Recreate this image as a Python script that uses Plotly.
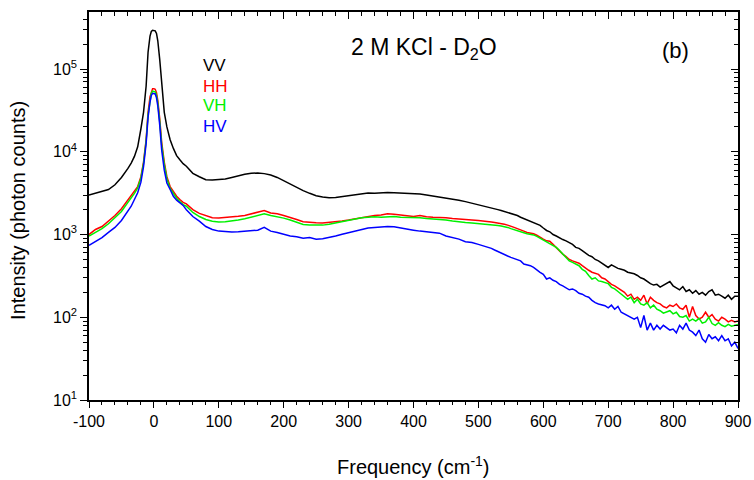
import plotly.graph_objects as go

freq = [-100, -90, -80, -70, -60, -50, -40,
        -35, -30, -25, -20, -16, -12, -9, -6, -4, -2, 0, 2, 4, 6, 9, 12, 16, 20, 25, 30, 35,
        40, 45, 50, 55, 60, 70, 80, 90, 100, 110, 120, 130, 140, 150, 160, 170, 180, 190,
        200, 210, 220, 230, 240, 250, 260, 270, 280, 290, 300, 310, 320, 330, 340, 350,
        360, 370, 380, 390, 400, 410, 420, 430, 440, 450, 460, 470, 480, 490, 500,
        505, 510, 515, 520, 525, 530, 535, 540, 545, 550, 555, 560, 565, 570, 575, 580,
        585, 590, 595, 600, 605, 610, 615, 620, 625, 630, 635, 640, 645, 650, 655, 660,
        665, 670, 675, 680, 685, 690, 695, 700, 705, 710, 715, 720, 725, 730, 735, 740,
        745, 750, 755, 760, 765, 770, 775, 780, 785, 790, 795, 800, 805, 810, 815, 820,
        825, 830, 835, 840, 845, 850, 855, 860, 865, 870, 875, 880, 885, 890, 895, 900]

vv = [3000, 3150, 3300, 3500, 4000, 4900, 6300,
      7300, 8800, 11500, 19000, 30000, 62000, 160000, 250000, 285000, 295000, 295000, 290000, 270000, 220000, 130000, 65000, 30000, 20000, 14000, 11000, 9000,
      8000, 7200, 6700, 6000, 5500, 5000, 4600, 4550, 4600, 4700, 4900, 5150, 5350, 5500, 5550, 5450, 5250, 4900,
      4450, 4100, 3750, 3400, 3150, 2950, 2850, 2780, 2800, 2870, 2950, 3050, 3150, 3170, 3150, 3200,
      3220, 3200, 3180, 3150, 3120, 3080, 3000, 2920, 2850, 2780, 2680, 2600, 2500, 2400, 2300,
      2250, 2200, 2150, 2100, 2050, 2000, 1950, 1900, 1850, 1800, 1750, 1700, 1620, 1560, 1500, 1430,
      1400, 1330, 1290, 1200, 1120, 1080, 1000, 960, 910, 870, 840, 800, 760, 700, 680, 640,
      600, 560, 540, 500, 480, 450, 420, 400, 430, 405, 390, 380, 370, 350, 345, 335,
      320, 300, 290, 270, 255, 245, 250, 232, 245, 260, 270, 240, 225, 215, 235, 205,
      215, 195, 210, 190, 200, 185, 205, 215, 185, 190, 180, 170, 185, 165, 180, 180]

hh = [1000, 1150, 1250, 1450, 1700, 2050, 2600,
      2900, 3300, 3800, 5000, 7500, 14000, 30000, 46000, 54000, 58000, 58000, 57000, 52000, 42000, 25000, 13000, 7500, 5000, 3800, 3300, 2900,
      2650, 2450, 2350, 2150, 2000, 1800, 1680, 1600, 1580, 1600, 1620, 1660, 1700, 1780, 1850, 1950, 1820, 1780,
      1700, 1620, 1520, 1430, 1400, 1390, 1380, 1400, 1420, 1460, 1500, 1550, 1620, 1680, 1700, 1720,
      1780, 1760, 1720, 1680, 1650, 1700, 1640, 1620, 1620, 1600, 1560, 1530, 1500, 1500, 1480,
      1470, 1450, 1440, 1420, 1400, 1380, 1370, 1330, 1300, 1270, 1220, 1180, 1150, 1100, 1060, 1050,
      1020, 980, 920, 880, 840, 830, 760, 690, 640, 580, 540, 500, 480, 460, 450, 420,
      390, 370, 350, 340, 330, 300, 290, 270, 250, 240, 225, 215, 200, 180, 190, 165,
      175, 160, 185, 145, 175, 160, 150, 145, 135, 130, 140, 135, 145, 130, 125, 140,
      100, 135, 105, 95, 100, 115, 100, 108, 95, 90, 100, 95, 88, 92, 88, 90]

vh = [960, 1060, 1180, 1350, 1580, 1900, 2450,
      2750, 3150, 3650, 4800, 7200, 13500, 28000, 43000, 51000, 54000, 54000, 53000, 48000, 39000, 23000, 12000, 7000, 4700, 3600, 3100, 2750,
      2500, 2300, 2200, 2000, 1850, 1650, 1520, 1450, 1420, 1430, 1450, 1500, 1550, 1620, 1680, 1780, 1700, 1650,
      1580, 1500, 1400, 1320, 1300, 1290, 1300, 1330, 1380, 1430, 1500, 1560, 1600, 1620, 1640, 1620,
      1640, 1650, 1620, 1620, 1610, 1600, 1560, 1550, 1540, 1500, 1460, 1420, 1400, 1380, 1360,
      1360, 1340, 1320, 1310, 1300, 1290, 1270, 1250, 1220, 1180, 1140, 1120, 1080, 1050, 1020, 1000,
      990, 950, 900, 860, 810, 780, 740, 700, 640, 580, 530, 480, 460, 440, 420, 380,
      360, 320, 290, 300, 275, 270, 265, 255, 230, 220, 205, 190, 180, 165, 175, 150,
      165, 145, 140, 150, 130, 140, 125, 120, 112, 115, 120, 110, 115, 102, 100, 105,
      90, 95, 90, 97, 85, 88, 100, 84, 80, 86, 80, 77, 82, 78, 80, 82]

hv = [740, 830, 920, 1060, 1220, 1480, 1900,
      2200, 2650, 3200, 4300, 6600, 12500, 26000, 40000, 48000, 51000, 51000, 50000, 45000, 36000, 21000, 10500, 6000, 4200, 3500, 2900, 2600,
      2400, 2250, 2000, 1800, 1650, 1450, 1250, 1150, 1100, 1090, 1070, 1080, 1090, 1100, 1130, 1220, 1100, 1060,
      1000, 960, 940, 900, 920, 880, 890, 920, 960, 1010, 1060, 1110, 1160, 1200, 1220, 1240,
      1250, 1240, 1210, 1180, 1130, 1100, 1080, 1060, 1040, 960, 920, 880, 820, 800, 760,
      740, 720, 700, 680, 650, 620, 600, 570, 550, 530, 510, 500, 480, 440, 430, 420,
      400, 370, 350, 330, 290, 300, 280, 270, 250, 240, 225, 215, 220, 210, 195, 190,
      180, 175, 160, 150, 145, 140, 138, 130, 140, 125, 135, 115, 110, 105, 100, 95,
      100, 75, 105, 70, 85, 70, 80, 72, 80, 75, 70, 72, 65, 80, 72, 85,
      70, 66, 60, 70, 55, 50, 62, 55, 58, 52, 60, 52, 55, 45, 50, 42]

series_names = ["VV", "HH", "VH", "HV"]
series_values = [vv, hh, vh, hv]
series_colors = ["#000000", "#ff0000", "#00f000", "#0000ff"]

y_major = [10, 100, 1000, 10000, 100000]
y_major_text = ["10<sup>1</sup>", "10<sup>2</sup>", "10<sup>3</sup>", "10<sup>4</sup>", "10<sup>5</sup>"]
y_minor = [m * d for d in [10, 100, 1000, 10000, 100000] for m in range(2, 10)]
x_ticks = [-100, 0, 100, 200, 300, 400, 500, 600, 700, 800, 900]
x_tick_text = ["-100", "0", "100", "200", "300", "400", "500", "600", "700", "800", "900"]

FONT = "Liberation Sans, Arial, sans-serif"

fig = go.Figure()
for name, vals, col in zip(series_names, series_values, series_colors):
    fig.add_trace(go.Scatter(x=freq, y=vals, mode="lines", name=name,
                             line=dict(color=col, width=1.5), showlegend=False))

axis_common = dict(showline=True, linecolor="black", linewidth=1.5, showgrid=False,
                   zeroline=False, tickcolor="black", tickwidth=1, automargin=False)

fig.update_layout(
    template="none",
    width=754, height=480,
    margin=dict(l=89, r=16, t=12, b=80, autoexpand=False),
    paper_bgcolor="white", plot_bgcolor="white",
    font=dict(family=FONT, size=16, color="black"),
    xaxis=dict(range=[-100, 900], tickmode="array", tickvals=x_ticks, ticktext=x_tick_text,
               ticks="outside", ticklen=6,
               minor=dict(dtick=20, tick0=0, ticks="outside", ticklen=3, tickcolor="black"),
               tickfont=dict(size=16), **axis_common),
    xaxis2=dict(range=[-100, 900], overlaying="x", side="top", matches="x",
                tickmode="array", tickvals=x_ticks, ticks="inside", ticklen=7,
                showticklabels=False,
                minor=dict(dtick=20, tick0=0, ticks="inside", ticklen=4, tickcolor="black"),
                **axis_common),
    yaxis=dict(type="log", range=[1, 5.69], tickmode="array", tickvals=y_major,
               ticktext=y_major_text, ticks="outside", ticklen=7,
               minor=dict(tickmode="array", tickvals=y_minor, ticks="outside", ticklen=4, tickcolor="black"),
               tickfont=dict(size=16), **axis_common),
    yaxis2=dict(type="log", range=[1, 5.69], overlaying="y", side="right", matches="y",
                tickmode="array", tickvals=y_major, ticks="inside", ticklen=7,
                showticklabels=False,
                minor=dict(tickmode="array", tickvals=y_minor, ticks="inside", ticklen=4, tickcolor="black"),
                **axis_common),
)

fig.add_trace(go.Scatter(x=[None], y=[None], xaxis="x2", yaxis="y2", showlegend=False, hoverinfo="skip"))

annotations = [
    dict(text="Intensity (photon counts)", x=-0.1094, y=0.49, textangle=-90, font=dict(size=20)),
    dict(text="Frequency (cm<sup>-1</sup>)", x=0.5, y=-0.170, font=dict(size=20)),
    dict(text="2 M KCl - D<sub>2</sub>O", x=0.516, y=0.905, font=dict(size=23)),
    dict(text="(b)", x=0.903, y=0.902, font=dict(size=22)),
]
label_y = [0.862, 0.8075, 0.758, 0.704]
for name, col, yy in zip(series_names, series_colors, label_y):
    annotations.append(dict(text=name, x=0.1726, y=yy, xanchor="left", font=dict(size=17, color=col)))

for a in annotations:
    a.setdefault("xanchor", "center")
    a.update(xref="paper", yref="paper", yanchor="middle", showarrow=False)
    fig.add_annotation(**a)

fig.write_html("out.html")
